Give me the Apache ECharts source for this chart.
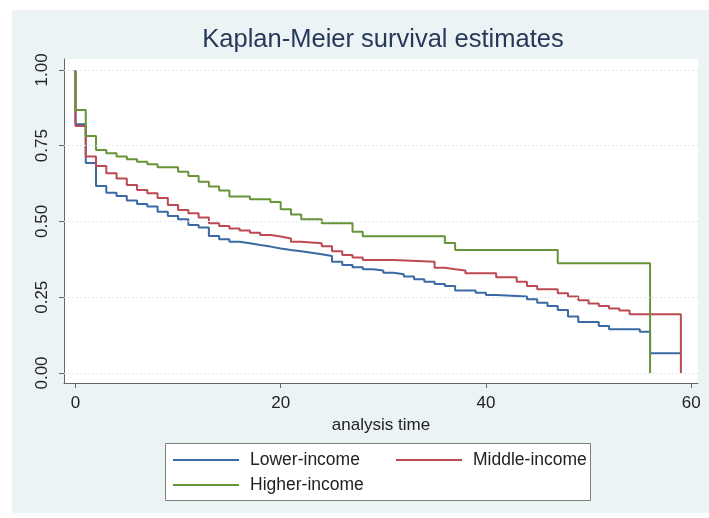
<!DOCTYPE html>
<html>
<head>
<meta charset="utf-8">
<script src="https://cdn.jsdelivr.net/npm/echarts@6/dist/echarts.min.js"></script>
<style>
html,body{margin:0;padding:0;background:#ffffff;}
#chart{width:709px;height:518px;}
</style>
</head>
<body>
<div id="chart"></div>
<script>
// ---- data ----
const seriesNames = ['Lower-income', 'Middle-income', 'Higher-income'];

const lowerTimes = [0, 0, 1, 2, 3, 4, 5, 6, 7, 8, 9, 10, 11, 12, 13, 14, 15, 16, 17, 18, 19, 20, 21, 22, 23, 24, 25, 26, 27, 28, 29, 30, 31, 32, 33, 34, 35, 36, 37, 39, 40, 41, 44, 45, 46, 47, 48, 49, 51, 52, 55, 56, 59];
const lowerSurv  = [1, 0.821, 0.693, 0.617, 0.595, 0.584, 0.569, 0.558, 0.549, 0.532, 0.518, 0.507, 0.488, 0.480, 0.452, 0.441, 0.433, 0.428, 0.422, 0.417, 0.411, 0.406, 0.402, 0.397, 0.392, 0.386, 0.367, 0.356, 0.349, 0.342, 0.338, 0.331, 0.326, 0.318, 0.309, 0.301, 0.294, 0.287, 0.272, 0.265, 0.257, 0.252, 0.243, 0.232, 0.221, 0.208, 0.186, 0.168, 0.155, 0.144, 0.136, 0.065, 0.065];

const middleTimes = [0, 0, 1, 2, 3, 4, 5, 6, 7, 8, 9, 10, 11, 12, 13, 14, 15, 16, 17, 18, 19, 20, 21, 22, 24, 25, 26, 27, 28, 31, 35, 36, 37, 38, 41, 43, 44, 45, 47, 48, 49, 50, 51, 52, 53, 54, 59];
const middleSurv  = [1, 0.815, 0.714, 0.683, 0.659, 0.642, 0.620, 0.604, 0.593, 0.577, 0.554, 0.538, 0.527, 0.513, 0.494, 0.485, 0.477, 0.470, 0.463, 0.455, 0.450, 0.444, 0.433, 0.428, 0.418, 0.402, 0.389, 0.381, 0.373, 0.367, 0.347, 0.342, 0.338, 0.329, 0.316, 0.301, 0.287, 0.276, 0.263, 0.252, 0.240, 0.229, 0.221, 0.213, 0.206, 0.194, 0];

const higherTimes = [0, 0, 1, 2, 3, 4, 5, 6, 7, 8, 10, 11, 12, 13, 14, 15, 17, 19, 20, 21, 22, 24, 27, 28, 36, 37, 47, 56];
const higherSurv  = [1, 0.868, 0.782, 0.736, 0.725, 0.714, 0.705, 0.697, 0.689, 0.679, 0.664, 0.650, 0.631, 0.615, 0.602, 0.582, 0.573, 0.564, 0.540, 0.523, 0.507, 0.494, 0.466, 0.451, 0.429, 0.406, 0.362, 0];

const xTicks = [0, 20, 40, 60];
const yTicks = [0, 0.25, 0.5, 0.75, 1];

// ---- chart ----
const colors = ['#3a6aa3', '#bd4a53', '#669439'];
const font = "'Liberation Sans', Arial, Helvetica, sans-serif";

function pairs(t, s) { return t.map((v, i) => [v, s[i]]); }

const chart = echarts.init(document.getElementById('chart'), null, {renderer: 'canvas'});

function mkSeries(name, t, s, color) {
  return {
    name: name, type: 'line', step: 'end', data: pairs(t, s),
    showSymbol: false, symbol: 'none', animation: false,
    lineStyle: {color: color, width: 2}, itemStyle: {color: color},
    z: 3
  };
}

const gridSeries = {
  type: 'line', data: [], silent: true, animation: false,
  markLine: {
    silent: true, symbol: 'none', animation: false, label: {show: false},
    lineStyle: {color: '#dfe9ee', type: [2, 2], width: 1},
    data: yTicks.map(v => ({yAxis: v}))
  },
  z: 1
};

chart.setOption({
  backgroundColor: '#ffffff',
  animation: false,
  color: colors,
  title: {
    text: 'Kaplan-Meier survival estimates',
    left: 383, top: 27, textAlign: 'center', padding: 0,
    textStyle: {fontFamily: font, fontSize: 25.5, fontWeight: 'normal', color: '#26395a'}
  },
  graphic: [
    {type: 'rect', z: -10, shape: {x: 12, y: 10, width: 697, height: 503}, style: {fill: '#ebf3f4'}},
    {type: 'rect', z: -5, shape: {x: 165.5, y: 443.5, width: 425, height: 57}, style: {fill: '#ffffff', stroke: '#808080', lineWidth: 1}}
  ],
  grid: {
    left: 64, right: 11, top: 59, bottom: 135,
    show: true, backgroundColor: '#ffffff', borderWidth: 0, containLabel: false
  },
  legend: [
    {
      data: ['Lower-income', 'Higher-income'], orient: 'vertical',
      left: 173, top: 450, icon: 'rect', itemWidth: 66, itemHeight: 2, itemGap: 5,
      padding: 0, selectedMode: false,
      textStyle: {fontFamily: font, fontSize: 17.5, color: '#222222', lineHeight: 20, padding: [0, 0, 0, 6]}
    },
    {
      data: ['Middle-income'], orient: 'vertical',
      left: 396, top: 450, icon: 'rect', itemWidth: 66, itemHeight: 2, itemGap: 5,
      padding: 0, selectedMode: false,
      textStyle: {fontFamily: font, fontSize: 17.5, color: '#222222', lineHeight: 20, padding: [0, 0, 0, 6]}
    }
  ],
  xAxis: {
    type: 'value', min: -1.12, max: 60.67,
    name: 'analysis time', nameLocation: 'middle', nameGap: 34,
    nameTextStyle: {fontFamily: font, fontSize: 17, color: '#222222'},
    axisLine: {show: true, onZero: false, lineStyle: {color: '#666666', width: 1}},
    axisTick: {show: true, length: 5, lineStyle: {color: '#666666'}, customValues: xTicks},
    axisLabel: {show: true, margin: 12, fontFamily: font, fontSize: 17, color: '#222222', customValues: xTicks, formatter: v => String(v)},
    splitLine: {show: false}
  },
  yAxis: {
    type: 'value', min: -0.033, max: 1.036,
    axisLine: {show: true, onZero: false, lineStyle: {color: '#666666', width: 1}},
    axisTick: {show: true, length: 5, lineStyle: {color: '#666666'}, customValues: yTicks},
    axisLabel: {show: true, rotate: 90, margin: 13, fontFamily: font, fontSize: 17, color: '#222222', customValues: yTicks, formatter: v => v.toFixed(2)},
    splitLine: {show: false}
  },
  series: [
    gridSeries,
    mkSeries(seriesNames[0], lowerTimes, lowerSurv, colors[0]),
    mkSeries(seriesNames[1], middleTimes, middleSurv, colors[1]),
    mkSeries(seriesNames[2], higherTimes, higherSurv, colors[2])
  ]
});
</script>
</body>
</html>
